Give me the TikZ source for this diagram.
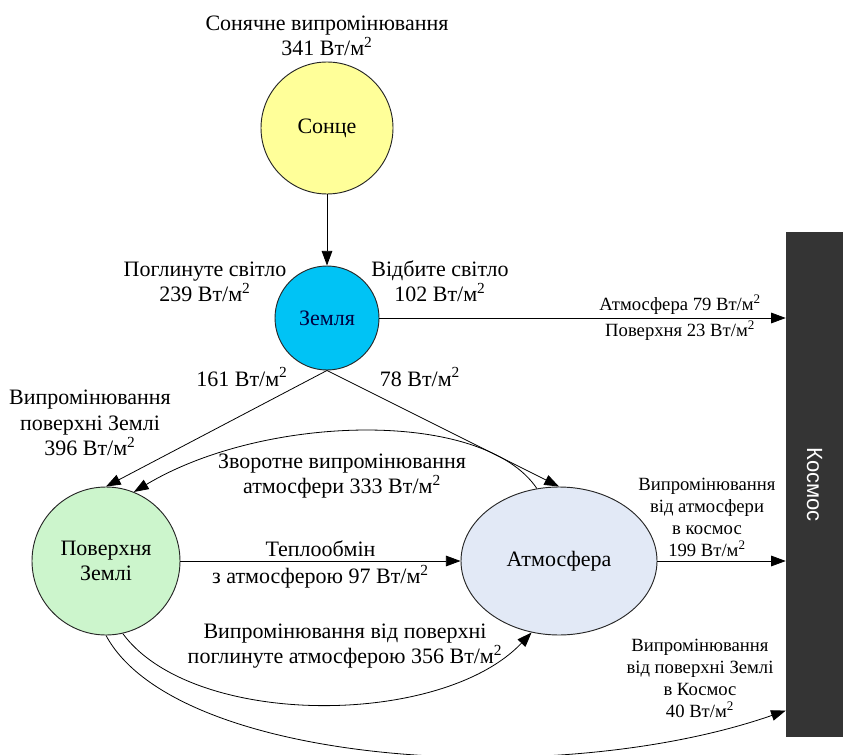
\documentclass[tikz,border=0pt]{standalone}
\usepackage{fontspec}
\setmainfont{Liberation Serif}
\setsansfont{Liberation Sans}
\usetikzlibrary{shapes.geometric,positioning,arrows.meta}
\definecolor{sunyellow}{RGB}{255,255,153}
\definecolor{earthblue}{RGB}{0,195,245}
\definecolor{surfacegreen}{RGB}{204,245,204}
\definecolor{airblue}{RGB}{226,233,246}
\definecolor{spacegray}{RGB}{52,52,52}
\newcommand{\vtm}{Вт/м\textsuperscript{2}}
\tikzset{
    body-node/.style = {draw=black!85, line width=0.7pt, circle, inner sep=0pt, align=center, font=\fontsize{16.5}{19}\selectfont},
    air-node/.style = {body-node, ellipse},
    flow-label/.style = {align=center, inner sep=1pt, font=\fontsize{16.5}{19}\selectfont},
    small-label/.style = {align=center, inner sep=1pt, font=\fontsize{14}{16.5}\selectfont},
    flow/.style = {-{Triangle[length=11pt,width=8pt]}, line width=0.6pt},
    space-bar/.style = {fill=spacegray, inner sep=0pt, minimum width=42.75pt, minimum height=378.75pt},
    space-text/.style = {text=white, rotate=-90, font=\sffamily\fontsize{16.5}{19}\selectfont},
}

\begin{document}
\begin{tikzpicture}[x=0.75pt,y=-0.75pt]
\useasboundingbox (0,0) rectangle (845,755);

% bodies
\node [body-node, fill=sunyellow, minimum size=99pt] (sonce) at (327,128) {Сонце};
\node [body-node, fill=earthblue, minimum size=78pt, text=black!75!blue] (zemlia) at (327,318) {Земля};
\node [body-node, fill=surfacegreen, minimum size=111pt] (poverkhnia) at (106,561) {Поверхня\\Землі};
\node [air-node, fill=airblue, minimum width=147pt, minimum height=111pt] (atmosfera) at (559,561) {Атмосфера};
\node [space-bar] (kosmos) at (814.5,484.5) {};
\node [space-text] (kosmos-text) at (kosmos.center) {Космос};

% labels
\node [flow-label, above=3pt of sonce] (sun-label) {Сонячне випромінювання\\341 \vtm};
\node [flow-label] (absorbed) at (205,282) {Поглинуте світло\\239 \vtm};
\node [flow-label] (reflected) at (440,281) {Відбите світло\\102 \vtm};
\node [flow-label] (to-surface) at (242,377) {161 \vtm};
\node [flow-label] (to-air) at (420,377) {78 \vtm};
\node [flow-label] (surface-emit) at (90,423) {Випромінювання\\поверхні Землі\\396 \vtm};
\node [flow-label] (back-label) at (342,476) {Зворотне випромінювання\\атмосфери 333 \vtm};
\node [flow-label] (absorb-label) at (345,646) {Випромінювання від поверхні\\поглинуте атмосферою 356 \vtm};
\node [small-label] (air-space) at (707,517) {Випромінювання\\від атмосфери\\в космос\\199 \vtm};
\node [small-label] (surface-space) at (700,678) {Випромінювання\\від поверхні Землі\\в Космос\\40 \vtm};

% flows
\draw [flow] (sonce) -- (zemlia);
\draw [flow] (zemlia.east) -- (zemlia.east -| kosmos.west)
    node [small-label, above=1pt, pos=0.74] {Атмосфера 79 \vtm}
    node [small-label, below=1pt, pos=0.74] {Поверхня 23 \vtm};
\draw [flow] (zemlia.south) -- (poverkhnia.north);
\draw [flow] (zemlia.south) -- (atmosfera.north);
\draw [flow] (atmosfera.107) .. controls +(-54,-80) and +(130,-78) .. (poverkhnia.68);
\draw [flow] (poverkhnia.east) -- (atmosfera.west)
    node [flow-label, above=2pt, midway] {Теплообмін}
    node [flow-label, below=2pt, midway] {з атмосферою 97 \vtm};
\draw [flow] (atmosfera.east) -- (atmosfera.east -| kosmos.west);
\draw [flow] (poverkhnia.283) .. controls +(70,95) and +(-90,95) .. (atmosfera.249);
\draw [flow] (poverkhnia.south) .. controls +(70,130) and +(-230,80) .. ([yshift=20pt]kosmos.south west);
\end{tikzpicture}
\end{document}
